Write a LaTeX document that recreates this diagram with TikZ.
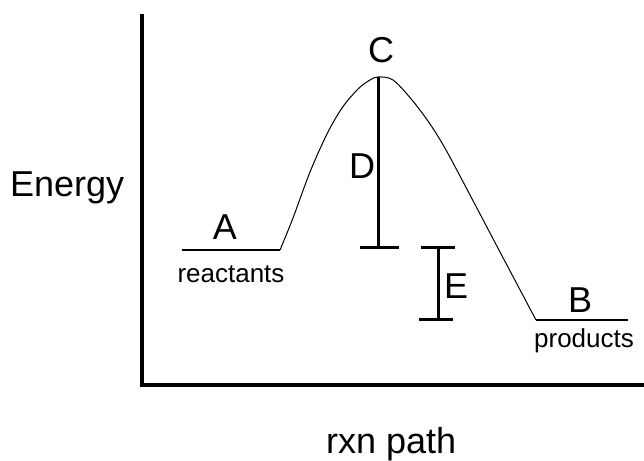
\documentclass[tikz,border=0pt]{standalone}
\usepackage{fontspec}
\setmainfont{Liberation Sans}
\begin{document}
\begin{tikzpicture}[x=1pt,y=-1pt,
  big/.style={font=\fontsize{36}{40}\selectfont, inner sep=0pt, anchor=base},
  small/.style={font=\fontsize{26}{30}\selectfont, inner sep=0pt, anchor=base},
  axisline/.style={line width=4pt},
  barline/.style={line width=3pt},
  levelline/.style={line width=1.5pt},
  curveline/.style={line width=1pt}]
\useasboundingbox (0,0) rectangle (644,460);
% axes
\coordinate (top) at (142,14);
\coordinate (origin) at (142,385);
\coordinate (right) at (644,385);
\draw[axisline] (top) -- (origin) -- (right);
% levels
\coordinate (r1) at (182,250);
\coordinate (r2) at (280,250);
\coordinate (p1) at (536,320);
\coordinate (p2) at (628,320);
\coordinate (peak) at (378,77);
\draw[levelline] (r1) -- (r2);
\draw[levelline] (p1) -- (p2);
% curve
\draw[curveline] plot[smooth, tension=0.55] coordinates {
  (280,250) (293,218) (310,172) (327,134) (342,108) (358,89) (370,80) (378,77)
  (393,80) (412,100) (430,124) (446,150) (470,195) (500,252) (536,320)};
% D bar
\coordinate (dbot) at (378,247);
\coordinate (dl) at (360,247);
\coordinate (dr) at (399,247);
\draw[barline] (peak) -- (dbot);
\draw[barline] (dl) -- (dr);
% E bar
\coordinate (etop) at (438,247);
\coordinate (ebot) at (438,319);
\coordinate (etl) at (421,247);
\coordinate (etr) at (455,247);
\coordinate (ebl) at (419,319);
\coordinate (ebr) at (453,319);
\draw[barline] (etop) -- (ebot);
\draw[barline] (etl) -- (etr);
\draw[barline] (ebl) -- (ebr);
% labels
\node[big] (lA) at (225,239) {A};
\node[big] (lB) at (580,312) {B};
\node[big] (lC) at (381,63) {C};
\node[big] (lD) at (362,178) {D};
\node[big] (lE) at (456,298) {E};
\node[small] (react) at (231,282) {reactants};
\node[small] (prod) at (584,347) {products};
\node[big, anchor=base west] (energy) at (10,196) {Energy};
\node[big, anchor=base west] (rxn) at (326,453) {rxn path};
\end{tikzpicture}
\end{document}
